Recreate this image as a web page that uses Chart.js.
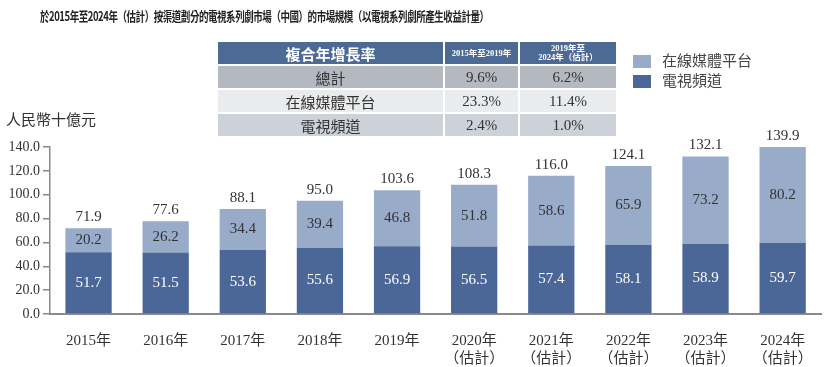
<!DOCTYPE html>
<html>
<head>
    <meta charset="utf-8">
    <title>電視系列劇市場規模</title>
    <script src="https://cdn.jsdelivr.net/npm/chart.js"></script>
    <style>
        body {
            margin: 0;
            background: #fff;
        }
        #wrap {
            position: relative;
            width: 831px;
            height: 367px;
            overflow: hidden;
        }
        canvas {
            position: absolute;
            left: 0;
            top: 0;
        }
        .title {
            position: absolute;
            left: 40px;
            top: 6px;
            font-family: "Noto Sans CJK TC", sans-serif;
            font-size: 13px;
            font-weight: bold;
            color: #222;
            letter-spacing: -0.6px;
            white-space: nowrap;
            transform: scaleX(0.73);
            transform-origin: left top;
        }
        .unit {
            position: absolute;
            left: 6px;
            top: 108px;
            font-family: "Noto Sans CJK TC", serif;
            font-size: 15px;
            color: #333;
        }
        table {
            position: absolute;
            left: 216px;
            top: 40px;
            border-collapse: separate;
            border-spacing: 2px 2px;
            font-family: "Liberation Serif", "Noto Sans CJK TC", serif;
            color: #333;
        }
        td {
            padding: 0;
            text-align: center;
            font-size: 15px;
            height: 22px;
        }
        th {
            padding: 0;
            height: 22px;
            background: #4d6a94;
            color: #fff;
            font-weight: bold;
        }
        th.big {
            font-family: "Noto Sans CJK TC", sans-serif;
            font-size: 15px;
            width: 225px;
        }
        th.small {
            font-size: 8.5px;
            line-height: 9px;
        }
        tr.r0 td { background: #b4b9c1; }
        tr.r1 td { background: #eaebed; }
        tr.r2 td { background: #cdd2da; }
        .legend {
            position: absolute;
            left: 633px;
            top: 50px;
            font-family: "Noto Sans CJK TC", serif;
            font-size: 15px;
            color: #444;
        }
        .legend div {
            height: 20px;
            line-height: 20px;
        }
        .legend span.box {
            display: inline-block;
            width: 18px;
            height: 13px;
            margin-right: 11px;
            vertical-align: -2px;
        }
    </style>
</head>
<body>
<div id="wrap">
    <canvas id="marketChart" width="831" height="367"></canvas>
    <div class="title">於2015年至2024年（估計）按渠道劃分的電視系列劇市場（中國）的市場規模（以電視系列劇所產生收益計量）</div>
    <div class="unit">人民幣十億元</div>
    <table id="cagrTable"></table>
    <div class="legend" id="legend"></div>
</div>

<script>
    // chart data
    const years = ['2015年', '2016年', '2017年', '2018年', '2019年',
        ['2020年', '（估計）'], ['2021年', '（估計）'], ['2022年', '（估計）'],
        ['2023年', '（估計）'], ['2024年', '（估計）']];
    const tvChannel = [51.7, 51.5, 53.6, 55.6, 56.9, 56.5, 57.4, 58.1, 58.9, 59.7];
    const onlinePlatform = [20.2, 26.2, 34.4, 39.4, 46.8, 51.8, 58.6, 65.9, 73.2, 80.2];
    const totals = [71.9, 77.6, 88.1, 95.0, 103.6, 108.3, 116.0, 124.1, 132.1, 139.9];
    const yMax = 140;
    const yStep = 20;

    // CAGR table
    const cagrHeader = ['複合年增長率', '2015年至2019年', ['2019年至', '2024年（估計）']];
    const cagrRows = ['總計', '在線媒體平台', '電視頻道'];
    const cagr2015to2019 = ['9.6%', '23.3%', '2.4%'];
    const cagr2019to2024 = ['6.2%', '11.4%', '1.0%'];

    const darkBlue = '#4a6797';
    const lightBlue = '#98abc9';
    const serif = '"Liberation Serif", "Noto Sans CJK TC", serif';

    // build table
    const table = document.getElementById('cagrTable');
    let html = '<tr><th class="big">' + cagrHeader[0] + '</th>' +
        '<th class="small" style="width:73px">' + cagrHeader[1] + '</th>' +
        '<th class="small" style="width:96px">' + cagrHeader[2].join('<br>') + '</th></tr>';
    cagrRows.forEach((name, i) => {
        html += '<tr class="r' + i + '"><td style="font-family:\'Noto Sans CJK TC\'">' + name + '</td><td>' +
            cagr2015to2019[i] + '</td><td>' + cagr2019to2024[i] + '</td></tr>';
    });
    table.innerHTML = html;

    const valueLabels = {
        id: 'valueLabels',
        afterDatasetsDraw(chart) {
            const ctx = chart.ctx;
            ctx.save();
            ctx.font = '15px ' + serif;
            ctx.textAlign = 'center';
            ctx.textBaseline = 'middle';
            chart.data.datasets.forEach((ds, di) => {
                const meta = chart.getDatasetMeta(di);
                meta.data.forEach((bar, i) => {
                    ctx.fillStyle = di === 0 ? '#fff' : '#333';
                    ctx.fillText(ds.data[i].toFixed(1), bar.x, (bar.y + bar.base) / 2);
                    if (di === chart.data.datasets.length - 1) {
                        ctx.fillStyle = '#333';
                        ctx.fillText(totals[i].toFixed(1), bar.x, bar.y - 11);
                    }
                });
            });
            ctx.restore();
        }
    };

    const ctx = document.getElementById('marketChart').getContext('2d');
    const chart = new Chart(ctx, {
        type: 'bar',
        data: {
            labels: years,
            datasets: [{
                label: '電視頻道',
                data: tvChannel,
                backgroundColor: darkBlue,
                barPercentage: 0.6,
                categoryPercentage: 1
            }, {
                label: '在線媒體平台',
                data: onlinePlatform,
                backgroundColor: lightBlue,
                barPercentage: 0.6,
                categoryPercentage: 1
            }]
        },
        options: {
            responsive: false,
            animation: false,
            layout: { padding: { top: 147, right: 7, left: 0, bottom: 0 } },
            plugins: {
                legend: { display: false },
                tooltip: { enabled: false }
            },
            scales: {
                x: {
                    stacked: true,
                    grid: { display: false, drawTicks: false },
                    border: { color: '#8a8a8a', width: 2 },
                    ticks: {
                        font: { family: serif, size: 15 },
                        color: '#333',
                        padding: 18,
                        maxRotation: 0,
                        autoSkip: false
                    },
                    afterFit(scale) { scale.height = 53; }
                },
                y: {
                    stacked: true,
                    min: 0,
                    max: yMax,
                    ticks: {
                        stepSize: yStep,
                        callback: v => v.toFixed(1),
                        font: { family: serif, size: 14 },
                        color: '#333',
                        padding: 3
                    },
                    grid: { drawOnChartArea: false, tickLength: 7, color: '#8a8a8a', lineWidth: 1.5 },
                    border: { color: '#8a8a8a', width: 1.5 },
                    afterFit(scale) { scale.width = 50; }
                }
            }
        },
        plugins: [valueLabels]
    });

    // legend, online first
    const legend = document.getElementById('legend');
    chart.data.datasets.slice().reverse().forEach(ds => {
        const row = document.createElement('div');
        row.innerHTML = '<span class="box" style="background:' + ds.backgroundColor + '"></span>' + ds.label;
        legend.appendChild(row);
    });
</script>
</body>
</html>
